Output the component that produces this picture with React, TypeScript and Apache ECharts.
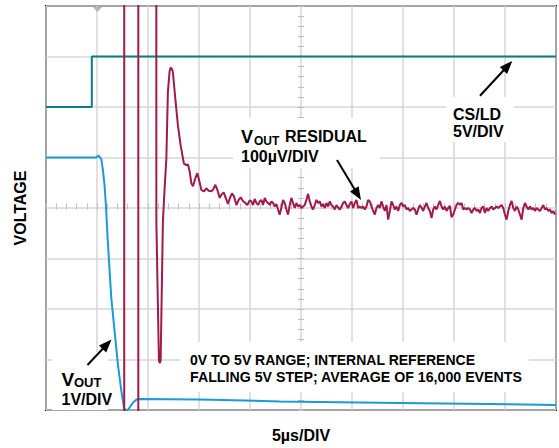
import React, { useEffect, useRef } from "react";
import * as echarts from "echarts";

// ---- Axis ranges (scope screen: 10 x 8 divisions) ----
const timeMinUs = 0;
const timeMaxUs = 50; // 5 µs/DIV x 10
const timePerDivUs = 5;
const voutRangeV = [0, 8]; // 1 V/DIV
const csldRangeV = [-30, 10]; // 5 V/DIV
const residualRangeUv = [-400, 400]; // 100 µV/DIV

// ---- CS/LD trace [µs, V] ----
const csldTrace: [number, number][] = [
  [0, 0], [4.49, 0], [4.49, 5], [50, 5],
];

// ---- VOUT trace [µs, V] ----
const voutTrace: [number, number][] = [
  [0, 5.0], [4.91, 5.0], [5.15, 5.04], [5.42, 4.97], [5.57, 4.77], [5.74, 4.45],
  [5.91, 3.93], [6.04, 3.4], [6.4, 2.22], [6.72, 1.57], [7.05, 0.9], [7.38, 0.39],
  [7.65, 0.04], [7.85, -0.01], [8.1, 0.02], [8.49, 0.14], [8.88, 0.21], [9.18, 0.22],
  [15.06, 0.21], [22.91, 0.17], [34.69, 0.14], [50, 0.1],
];

// ---- VOUT residual [µs, µV] (off-screen values are clipped) ----
const residualTransient: [number, number][] = [
  [0, 5000], [7.67, 5000], [7.67, -5000], [9.05, -5000], [9.05, 5000], [10.77, 5000],
  [10.82, -27], [11.07, -302], [11.17, -307], [11.24, -302], [11.46, -27], [11.63, 39],
  [11.8, 98], [11.95, 230], [12.12, 271], [12.22, 278], [12.36, 275], [12.44, 269],
  [12.68, 216], [12.93, 164], [13.2, 124], [13.52, 88], [13.76, 85], [13.92, 86],
  [14.08, 73], [14.25, 49], [14.41, 43], [14.64, 59], [14.84, 69], [15.0, 56],
  [15.23, 36], [15.49, 33], [15.72, 39], [15.95, 34], [16.21, 33], [16.37, 36],
  [16.6, 46], [16.8, 36], [17.03, 20], [17.19, 26], [17.42, 31], [17.62, 20],
  [17.84, 8], [18.04, 20], [18.23, 29], [18.43, 23], [18.67, 6], [18.89, 16],
  [19.09, 21], [19.31, 14], [19.55, 10], [19.74, 6],
];
// settled part, one scope sample every residualSampleUs starting at residualSettleStartUs
const residualSettleStartUs = 19.97;
const residualSampleUs = 0.16356;
const residualSettle: number[] = [
  15,
  13, 6, 18, 10, 6, 13, 16, 6, 20, 13, 10, 6, 13, 10, 3, 8, -3, -13, 1, 16,
  10, -3, -13, 6, 20, 10, 0, 10, 3, 6, 0, 3, 6, 16, 28, 13, 3, -3, 6, 16,
  10, 13, 3, 8, 0, 10, 3, 13, 6, 3, -3, 6, 1, -3, 3, 10, 13, 6, 0,
  8,
  13, 0, 10, 16, 0, 3, 0, 3, -3, 3, 16, 13, 3, -6, -13, 0, 6, 0, 13, 3,
  -6, 6, -23, -6, 13, 6, -3, 3, -6, 6, 10, 3, 6, -3, 0, -6, -3, 0, -3, -13,
  -3, 6, 1, -6, 3, 10, 0, -6, -20, -3, 3, -3, 6, 14, 3, -3, 3, -6, 0,
  4,
  -18, -13, -3, 6, 10, 6, 10, -3, 0, -3, 0, -3, -10, -3, 0, -6, -3, -10, 0, 3,
  -10, 0, -6, 0, 3, -3, 0, 3, 0, 3, 6, 0, -13, -23, -6, 6, 14, 0, -6, 3,
  -3, -13, -23, 0, 10, 3, -3, 3, -3, 0, -6, 0, -3, -6, 0, 6, -3, 0, -6, -3,
  -10, -6, -13,
];

const FONT = '"Liberation Sans", Arial, Helvetica, sans-serif';
const TEAL = "#0b7f79";
const BLUE = "#1a9ad6";
const MAROON = "#a01a4c";
const GRID_GREY = "#d6d6d6";

function txt(text: string, x: number, y: number, size: number) {
  return {
    type: "text",
    x,
    y,
    z: 10,
    style: {
      text,
      fill: "#000",
      fontSize: size,
      fontWeight: "bold",
      fontFamily: FONT,
      align: "left",
      verticalAlign: "middle",
    },
  };
}

function box(x: number, y: number, w: number, h: number) {
  return { type: "rect", z: 1, shape: { x, y, width: w, height: h }, style: { fill: "#fff" } };
}

function arrow(x1: number, y1: number, x2: number, y2: number) {
  const dx = x2 - x1;
  const dy = y2 - y1;
  const len = Math.hypot(dx, dy);
  const ux = dx / len;
  const uy = dy / len;
  const headL = 13;
  const headW = 5;
  const bx = x2 - ux * headL;
  const by = y2 - uy * headL;
  return [
    { type: "line", z: 10, shape: { x1, y1, x2: bx + ux * 2, y2: by + uy * 2 }, style: { stroke: "#000", lineWidth: 2 } },
    {
      type: "polygon",
      z: 10,
      shape: { points: [[x2, y2], [bx - uy * headW, by + ux * headW], [bx + uy * headW, by - ux * headW]] },
      style: { fill: "#000" },
    },
  ];
}

function centerTickAxis(kind: "x" | "y", inside: boolean) {
  const tickStyle = { color: "#bdbdbd", width: 1 };
  const base: any = {
    type: "value",
    axisLine: { show: false, onZero: false },
    axisTick: { show: true, inside, length: 3, lineStyle: tickStyle },
    minorTick: { show: true, splitNumber: 5, length: 3, lineStyle: tickStyle },
    axisLabel: { show: false },
    splitLine: { show: false },
  };
  if (kind === "x") {
    return { ...base, min: timeMinUs, max: timeMaxUs, interval: timePerDivUs, position: "bottom", offset: -203.5 };
  }
  return { ...base, min: voutRangeV[0], max: voutRangeV[1], interval: 1, position: "left", offset: -255 };
}

export default function App() {
  const ref = useRef<HTMLDivElement>(null);

  useEffect(() => {
    document.body.style.margin = "0";
    if (!ref.current) return;
    const chart = echarts.init(ref.current, null, { renderer: "svg" });

    const residualTrace: [number, number][] = [
      ...residualTransient,
      ...residualSettle.map((v, i) => [residualSettleStartUs + i * residualSampleUs, v] as [number, number]),
    ];

    const lineBase = { type: "line", showSymbol: false, symbol: "none", clip: true, silent: true };

    chart.setOption({
      animation: false,
      backgroundColor: "#fff",
      grid: {
        left: 46,
        top: 6,
        width: 510,
        height: 407,
        show: true,
        borderColor: "#111",
        borderWidth: 2,
        backgroundColor: "transparent",
      },
      xAxis: [
        {
          type: "value",
          min: timeMinUs,
          max: timeMaxUs,
          interval: timePerDivUs,
          axisLine: { show: false, onZero: false },
          axisTick: { show: false },
          axisLabel: { show: false },
          splitLine: { show: true, lineStyle: { color: GRID_GREY, width: 1.5 } },
          name: "5µs/DIV",
          nameLocation: "middle",
          nameGap: 17,
          nameTextStyle: { fontFamily: FONT, fontWeight: "bold", fontSize: 16, color: "#000", verticalAlign: "top" },
        },
        centerTickAxis("x", true),
        centerTickAxis("x", false),
      ],
      yAxis: [
        {
          type: "value",
          min: voutRangeV[0],
          max: voutRangeV[1],
          interval: 1,
          axisLine: { show: false, onZero: false },
          axisTick: { show: false },
          axisLabel: { show: false },
          splitLine: { show: true, lineStyle: { color: GRID_GREY, width: 1.5 } },
          name: "VOLTAGE",
          nameLocation: "middle",
          nameRotate: 90,
          nameGap: 18,
          nameTextStyle: { fontFamily: FONT, fontWeight: "bold", fontSize: 16, color: "#000" },
        },
        { type: "value", show: false, min: csldRangeV[0], max: csldRangeV[1], axisLine: { onZero: false }, splitLine: { show: false } },
        { type: "value", show: false, min: residualRangeUv[0], max: residualRangeUv[1], axisLine: { onZero: false }, splitLine: { show: false } },
        centerTickAxis("y", true),
        centerTickAxis("y", false),
      ],
      series: [
        { ...lineBase, name: "CS/LD", yAxisIndex: 1, data: csldTrace, lineStyle: { color: TEAL, width: 2 }, z: 2 },
        { ...lineBase, name: "VOUT", yAxisIndex: 0, data: voutTrace, lineStyle: { color: BLUE, width: 2 }, z: 3 },
        { ...lineBase, name: "VOUT RESIDUAL", yAxisIndex: 2, data: residualTrace, lineStyle: { color: MAROON, width: 2 }, z: 4 },
      ],
      graphic: [
        // white label backgrounds
        box(233, 118, 147, 50),
        box(446, 97, 68, 45),
        box(180, 342, 349, 50),
        box(52, 352, 56, 58),
        // trigger marker
        { type: "polygon", z: 5, shape: { points: [[93, 7], [102, 7], [97.5, 12]] }, style: { fill: "#b5b5b5" } },
        // VOUT RESIDUAL label
        txt("V", 241, 136.5, 18),
        txt("OUT", 254, 141, 12),
        txt("RESIDUAL", 285, 136.5, 16),
        txt("100µV/DIV", 241, 156, 16),
        // CS/LD label
        txt("CS/LD", 453, 114, 16),
        txt("5V/DIV", 453, 131, 16),
        // note
        txt("0V TO 5V RANGE; INTERNAL REFERENCE", 190, 359.5, 14),
        txt("FALLING 5V STEP; AVERAGE OF 16,000 EVENTS", 190, 376.5, 14.2),
        // VOUT label
        txt("V", 61.5, 379, 19),
        txt("OUT", 74, 382.5, 13),
        txt("1V/DIV", 61.5, 399, 16),
        // arrows
        ...arrow(337, 160, 361, 200),
        ...arrow(480, 95.7, 512.3, 61),
        ...arrow(87.5, 365, 111.5, 339.5),
      ],
    });

    return () => chart.dispose();
  }, []);

  return <div ref={ref} style={{ width: 559, height: 448 }} />;
}
